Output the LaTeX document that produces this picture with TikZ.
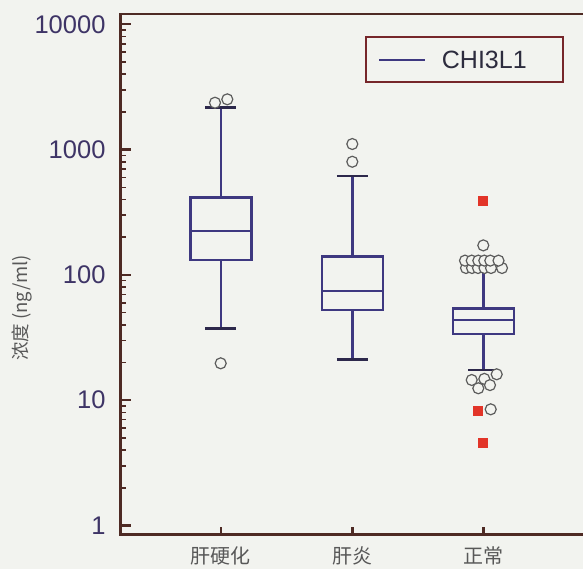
\documentclass[tikz,border=0pt]{standalone}
\usepackage{fontspec}
\setmainfont{Liberation Sans}
\newfontfamily\cjk{Noto Sans CJK SC}
\usepackage{xcolor}
\usetikzlibrary{calc}

\definecolor{bgcol}{RGB}{242,243,239}
\definecolor{axcol}{RGB}{78,42,36}
\definecolor{bxcol}{RGB}{62,56,128}
\definecolor{capcol}{RGB}{45,40,75}
\definecolor{numcol}{RGB}{62,52,102}
\definecolor{legcol}{RGB}{118,38,42}
\definecolor{redcol}{RGB}{226,52,40}
\definecolor{circcol}{RGB}{92,92,92}
\definecolor{txtcol}{RGB}{88,88,88}

% x, low, q1, median, q3, high
\newcommand{\drawbox}[6]{%
  \draw[bxline] (#1,{ly(#2)}) -- (#1,{ly(#3)});
  \draw[bxline] (#1,{ly(#5)}) -- (#1,{ly(#6)});
  \draw[capline] ({#1-\capw},{ly(#2)}) -- ({#1+\capw},{ly(#2)});
  \draw[capline] ({#1-\capw},{ly(#6)}) -- ({#1+\capw},{ly(#6)});
  \draw[bxline] ({#1-\boxw},{ly(#3)}) rectangle ({#1+\boxw},{ly(#5)});
  \draw[bxline] ({#1-\boxw},{ly(#4)}) -- ({#1+\boxw},{ly(#4)});
}

\begin{document}
\begin{tikzpicture}[
  x=1pt, y=-1pt,
  declare function={ly(\v)=525.5-125.3*log10(\v);},
  axis/.style={axcol,line width=2.8pt},
  tickline/.style={axcol,line width=2.4pt},
  bxline/.style={bxcol,line width=2.4pt},
  capline/.style={capcol,line width=2.6pt},
  dot/.style={circle,draw=circcol,fill=bgcol,line width=1.2pt,inner sep=0pt,minimum size=11pt},
  sq/.style={rectangle,fill=redcol,inner sep=0pt,minimum size=10pt},
  num/.style={numcol,anchor=east,font=\fontsize{25.5}{28}\selectfont},
  grp/.style={txtcol,font=\cjk\fontsize{20}{23}\selectfont}
  ]
\def\boxw{30.5}
\def\capw{15.5}
\useasboundingbox (0,0) rectangle (583,569);
\fill[bgcol] (0,0) rectangle (583,569);

% ticks on y axis
\foreach \d/\lab in {0/1,1/10,2/100,3/1000,4/10000}{
  \draw[tickline] (120.5,{ly(10^\d)}) -- ++(10,0);
  \node[num] (y\d) at (109,{ly(10^\d)}) {\lab};
}
\foreach \d in {0,...,3}
  \foreach \m in {2,...,9}
    \draw[axcol,line width=1.6pt] (120.5,{ly(\m*10^\d)}) -- ++(5.5,0);

% ticks on x axis
\foreach \x/\lab [count=\i] in {220.8/肝硬化,352.3/肝炎,483.5/正常}{
  \draw[tickline] (\x,534.5) -- ++(0,-8);
  \node[grp] (g\i) at (\x,556) {\lab};
}

\node[txtcol,rotate=90,font=\cjk\fontsize{18.5}{20}\selectfont] (ylab) at (22,308) {浓度 (ng/ml)};

% boxes
\drawbox{220.8}{37.2}{131.5}{224}{416}{2177}
\drawbox{352.3}{21.2}{52.5}{74.8}{140.7}{615}
\drawbox{483.5}{17.4}{33.9}{43.6}{54.1}{111.4}

% outliers
\node[dot] (a1) at (220.7,{ly(19.7)}) {};
\node[dot] (a2) at (215,{ly(2367)}) {};
\node[dot] (a3) at (227.3,{ly(2519)}) {};
\node[dot] (b1) at (352.3,{ly(800)}) {};
\node[dot] (b2) at (352.3,{ly(1108)}) {};
\node[dot] (c0) at (483.3,{ly(172)}) {};
\foreach \x [count=\i] in {466,472,478,484.5,491,502}
  \node[dot] (cl\i) at (\x,{ly(113.5)}) {};
\foreach \x [count=\i] in {465,471.7,478.3,484.3,490.3,498.5}
  \node[dot] (cu\i) at (\x,{ly(130)}) {};
\node[dot] (d1) at (471.7,{ly(14.5)}) {};
\node[dot] (d2) at (484.3,{ly(14.8)}) {};
\node[dot] (d3) at (496.7,{ly(16.1)}) {};
\node[dot] (d4) at (478.3,{ly(12.45)}) {};
\node[dot] (d5) at (490,{ly(13.2)}) {};
\node[dot] (d6) at (490.7,{ly(8.46)}) {};
\node[sq] (r1) at (483,{ly(391)}) {};
\node[sq] (r2) at (477.7,{ly(8.25)}) {};
\node[sq] (r3) at (483,{ly(4.53)}) {};

% frame
\draw[axis] (583,14) -- (120.5,14) -- (120.5,534.5) -- (583,534.5);

% legend
\draw[legcol,line width=2pt] (366,36.7) rectangle (563.3,81.7);
\draw[bxline,line width=2pt] (379,60) -- (425,60);
\node[anchor=west,inner sep=0pt,text={rgb,255:red,45;green,44;blue,62},font=\fontsize{25}{28}\selectfont] (leg) at (441.7,60) {CHI3L1};
\end{tikzpicture}
\end{document}
